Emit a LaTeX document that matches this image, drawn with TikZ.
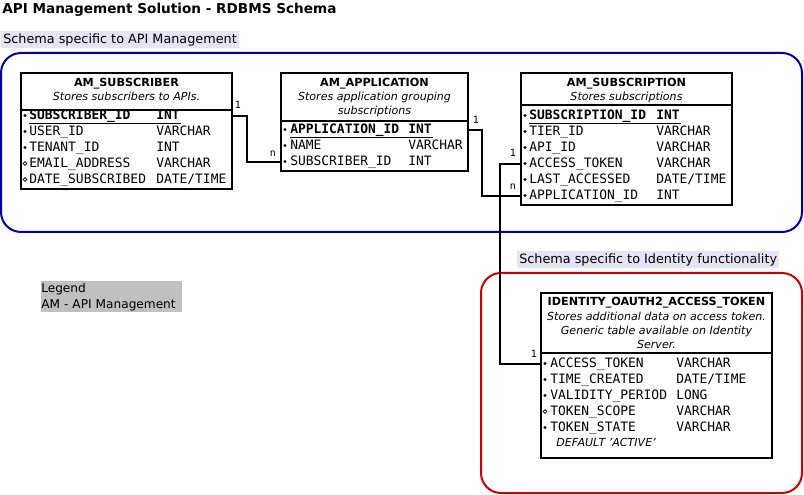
\documentclass[tikz,border=0pt]{standalone}
\usepackage{fontspec}
\setmainfont{DejaVu Sans}
\setmonofont{DejaVu Sans Mono}
\usetikzlibrary{fit}
\definecolor{framblue}{HTML}{0000AA}
\definecolor{framred}{HTML}{CC0000}
\definecolor{secbg}{HTML}{E4E4F4}
\definecolor{legbg}{HTML}{C0C0C0}
\tikzset{
  ptitle/.style={font=\bfseries\fontsize{10.2}{12}\selectfont, anchor=base west, inner sep=0},
  sect/.style={fill=secbg, font=\fontsize{9.6}{11}\selectfont, inner xsep=1.5pt, inner ysep=2pt, anchor=west},
  tbox/.style={draw, line width=1.5pt, inner sep=0},
  tname/.style={font=\bfseries\fontsize{8.4}{10}\selectfont, inner sep=0, anchor=base},
  tdesc/.style={font=\itshape\fontsize{8.3}{10}\selectfont, inner sep=0, anchor=base},
  fld/.style={font=\ttfamily\fontsize{9.7}{11}\selectfont, inner sep=0, anchor=base west, text height=7pt, text depth=2pt},
  pk/.style={fld, font=\ttfamily\bfseries\fontsize{9.7}{11}\selectfont},
  mand/.style={circle, fill, inner sep=0, minimum size=2.4pt},
  opt/.style={circle, draw, line width=0.5pt, inner sep=0, minimum size=2.8pt},
  sepline/.style={line width=1.5pt},
  conn/.style={line width=1.5pt},
  card/.style={font=\ttfamily\fontsize{7.5}{8}\selectfont, inner sep=0, anchor=base},
  frame/.style={line width=1.5pt, rounded corners=15pt},
}
\begin{document}
\begin{tikzpicture}[x=0.75pt,y=-0.75pt]
\useasboundingbox (0,0) rectangle (804,495);

\node[ptitle] (title) at (2,14) {API Management Solution - RDBMS Schema};

% API management section
\node[sect] (sec1) at (1,39.5) {Schema specific to API Management};
\draw[frame, framblue] (1,53) rectangle (802,232);

% AM_SUBSCRIBER
\node[tbox, fit={(21,73)(232,189)}] (sub) {};
\node[tname] (subn) at (126.5,87) {AM\_SUBSCRIBER};
\node[tdesc] (subd) at (126.5,101) {Stores subscribers to APIs.};
\draw[sepline] (sub.west |- 0,110) -- (sub.east |- 0,110);
\node[mand] (sb1) at (25,115.5) {};
\node[pk] (s1) at (29,119.5) {SUBSCRIBER\_ID};
\node[pk] (s1t) at (156,119.5) {INT};
\draw[line width=0.8pt] (29,123.5) -- (181,123.5);
\node[mand] (sb2) at (25,131.5) {};
\node[fld] (s2) at (29,135.5) {USER\_ID};
\node[fld] (s2t) at (156,135.5) {VARCHAR};
\node[mand] (sb3) at (25,147.5) {};
\node[fld] (s3) at (29,151.5) {TENANT\_ID};
\node[fld] (s3t) at (156,151.5) {INT};
\node[opt] (sb4) at (25,163.5) {};
\node[fld] (s4) at (29,167.5) {EMAIL\_ADDRESS};
\node[fld] (s4t) at (156,167.5) {VARCHAR};
\node[opt] (sb5) at (25,179.5) {};
\node[fld] (s5) at (29,183.5) {DATE\_SUBSCRIBED};
\node[fld] (s5t) at (156,183.5) {DATE/TIME};

% AM_APPLICATION
\node[tbox, fit={(281,73)(468,171)}] (app) {};
\node[tname] (appn) at (374.5,87) {AM\_APPLICATION};
\node[tdesc] (appd1) at (374.5,101) {Stores application grouping};
\node[tdesc] (appd2) at (374.5,115) {subscriptions};
\draw[sepline] (app.west |- 0,121) -- (app.east |- 0,121);
\node[mand] (ab1) at (285,129.5) {};
\node[pk] (a1) at (290,133.5) {APPLICATION\_ID};
\node[pk] (a1t) at (408,133.5) {INT};
\draw[line width=0.8pt] (290,137.5) -- (433,137.5);
\node[mand] (ab2) at (285,145.5) {};
\node[fld] (a2) at (290,149.5) {NAME};
\node[fld] (a2t) at (408,149.5) {VARCHAR};
\node[mand] (ab3) at (285,161.5) {};
\node[fld] (a3) at (290,165.5) {SUBSCRIBER\_ID};
\node[fld] (a3t) at (408,165.5) {INT};

% AM_SUBSCRIPTION
\node[tbox, fit={(521,73)(732,205)}] (subs) {};
\node[tname] (subsn) at (626.5,87) {AM\_SUBSCRIPTION};
\node[tdesc] (subsd) at (626.5,101) {Stores subscriptions};
\draw[sepline] (subs.west |- 0,105) -- (subs.east |- 0,105);
\node[mand] (ub1) at (525,115.5) {};
\node[pk] (u1) at (529,119.5) {SUBSCRIPTION\_ID};
\node[pk] (u1t) at (656,119.5) {INT};
\draw[line width=0.8pt] (529,123.5) -- (681,123.5);
\node[mand] (ub2) at (525,131.5) {};
\node[fld] (u2) at (529,135.5) {TIER\_ID};
\node[fld] (u2t) at (656,135.5) {VARCHAR};
\node[mand] (ub3) at (525,147.5) {};
\node[fld] (u3) at (529,151.5) {API\_ID};
\node[fld] (u3t) at (656,151.5) {VARCHAR};
\node[mand] (ub4) at (525,163.5) {};
\node[fld] (u4) at (529,167.5) {ACCESS\_TOKEN};
\node[fld] (u4t) at (656,167.5) {VARCHAR};
\node[mand] (ub5) at (525,179.5) {};
\node[fld] (u5) at (529,183.5) {LAST\_ACCESSED};
\node[fld] (u5t) at (656,183.5) {DATE/TIME};
\node[mand] (ub6) at (525,195.5) {};
\node[fld] (u6) at (529,199.5) {APPLICATION\_ID};
\node[fld] (u6t) at (656,199.5) {INT};

% Identity section
\node[sect] (sec2) at (517,259.5) {Schema specific to Identity functionality};
\draw[frame, framred] (481,273) rectangle (802,493);

\node[tbox, fit={(541,293)(772,458)}] (idt) {};
\node[tname] (idtn) at (656.5,306) {IDENTITY\_OAUTH2\_ACCESS\_TOKEN};
\node[tdesc] (idtd1) at (656.5,321) {Stores additional data on access token.};
\node[tdesc] (idtd2) at (656.5,335) {Generic table available on Identity};
\node[tdesc] (idtd3) at (656.5,349) {Server.};
\draw[sepline] (idt.west |- 0,353) -- (idt.east |- 0,353);
\node[mand] (ib1) at (545,363.5) {};
\node[fld] (i1) at (550,367.5) {ACCESS\_TOKEN};
\node[fld] (i1t) at (676,367.5) {VARCHAR};
\node[mand] (ib2) at (545,379.5) {};
\node[fld] (i2) at (550,383.5) {TIME\_CREATED};
\node[fld] (i2t) at (676,383.5) {DATE/TIME};
\node[mand] (ib3) at (545,395.5) {};
\node[fld] (i3) at (550,399.5) {VALIDITY\_PERIOD};
\node[fld] (i3t) at (676,399.5) {LONG};
\node[opt] (ib4) at (545,411.5) {};
\node[fld] (i4) at (550,415.5) {TOKEN\_SCOPE};
\node[fld] (i4t) at (676,415.5) {VARCHAR};
\node[mand] (ib5) at (545,427.5) {};
\node[fld] (i5) at (550,431.5) {TOKEN\_STATE};
\node[fld] (i5t) at (676,431.5) {VARCHAR};
\node[tdesc, anchor=base west] (i5d) at (556,446.5) {DEFAULT 'ACTIVE'};

% Legend
\node[fill=legbg, anchor=north west, inner sep=0, align=left, font=\fontsize{9.1}{12}\selectfont, text width=141*0.75pt, minimum height=31*0.75pt] (legend) at (41,281) {Legend\\AM - API Management};

% Connectors
\draw[conn] (sub.east |- s1.west) -- ++(14,0) coordinate (c1) |- (app.west |- a3.west);
\node[card] (c1a) at (238,109) {1};
\node[card] (c1b) at (273,157) {n};

\draw[conn] (app.east |- a1.west) -- ++(13,0) coordinate (c2) |- (subs.west |- u6.west);
\node[card] (c2a) at (476,124) {1};
\node[card] (c2b) at (513,190) {n};

\draw[conn] (subs.west |- u4.west) -- ++(-20,0) coordinate (c3) -- (c3 |- i1.west) -- (idt.west |- i1.west);
\node[card] (c3a) at (513,157) {1};
\node[card] (c3b) at (534,358) {1};
\end{tikzpicture}
\end{document}
